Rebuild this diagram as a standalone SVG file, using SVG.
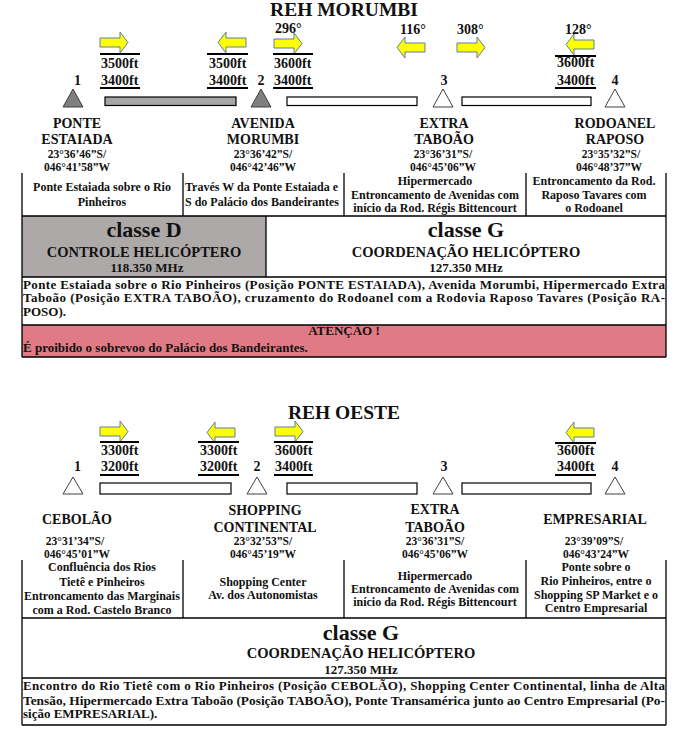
<svg xmlns="http://www.w3.org/2000/svg" xmlns:xlink="http://www.w3.org/1999/xlink" width="679" height="743" viewBox="0 0 679 743">
<style>
text{font-family:"Liberation Serif","Times New Roman",serif;font-weight:bold;fill:#111}
.c{text-anchor:middle}
.ttl{font-size:19.5px}
.alt{font-size:14px}
.num{font-size:14px}
.nm{font-size:14px}
.co{font-size:11.5px}
.ds{font-size:12px}
.pa{font-size:13px}
.cl{font-size:22px}
.sv{font-size:14.5px}
.fq{font-size:13px}
.ln{stroke:#000;stroke-width:1.3;fill:none}
.al{stroke:#000;stroke-width:2.2}
.arr{fill:#FFFF00;stroke:#5B7FA8;stroke-width:1}
.bar{stroke:#000;stroke-width:1.2}
.tg{fill:#7F7F7F;stroke:#404040;stroke-width:1}
.tw{fill:#fff;stroke:#404040;stroke-width:1}
</style>
<defs>
<path id="arR" class="arr" d="M0,6 H20 V0 L28,10.5 L20,21 V15 H0 Z"/>
<path id="arL" class="arr" d="M28,6 H8 V0 L0,10.5 L8,21 V15 H28 Z"/>
</defs>
<rect width="679" height="743" fill="#fff"/>

<!-- ===== REH MORUMBI ===== -->
<text class="ttl c" x="344" y="16">REH MORUMBI</text>

<g id="top-arrows">
<use xlink:href="#arR" x="100" y="32"/>
<use xlink:href="#arL" x="218" y="32"/>
<use xlink:href="#arR" x="274" y="33"/>
<use xlink:href="#arL" x="397" y="37"/>
<use xlink:href="#arR" x="457" y="37"/>
<use xlink:href="#arL" x="566" y="34"/>
<text class="alt" x="275" y="33">296°</text>
<text class="alt" x="400" y="34">116°</text>
<text class="alt" x="457" y="34">308°</text>
<text class="alt" x="565" y="34">128°</text>
</g>

<g id="top-altitudes">
<line class="al" x1="100" y1="54" x2="140" y2="54"/><line class="al" x1="100" y1="88" x2="140" y2="88"/>
<text class="alt" x="101" y="68">3500ft</text><text class="alt" x="101" y="85">3400ft</text>
<line class="al" x1="207" y1="54" x2="248" y2="54"/><line class="al" x1="207" y1="88" x2="248" y2="88"/>
<text class="alt" x="209" y="68">3500ft</text><text class="alt" x="209" y="85">3400ft</text>
<line class="al" x1="273" y1="54" x2="313" y2="54"/><line class="al" x1="273" y1="88" x2="313" y2="88"/>
<text class="alt" x="274" y="68">3600ft</text><text class="alt" x="274" y="85">3400ft</text>
<line class="al" x1="555" y1="56" x2="596" y2="56"/><line class="al" x1="555" y1="88" x2="596" y2="88"/>
<text class="alt" x="557" y="67">3600ft</text><text class="alt" x="557" y="85">3400ft</text>
</g>

<g id="top-connectors">
<rect class="bar" x="105" y="97" width="131" height="8.5" fill="#A6A6A6"/>
<rect class="bar" x="287" y="97" width="130" height="8.5" fill="#fff"/>
<rect class="bar" x="462" y="97" width="129" height="8.5" fill="#fff"/>
</g>

<g id="node-ponte-estaiada">
<text class="num c" x="77.5" y="85">1</text>
<polygon class="tg" points="73,89 83,107 63,107"/>
<text class="nm c" x="77" y="128">PONTE</text>
<text class="nm c" x="77" y="144">ESTAIADA</text>
<text class="co c" x="77" y="158">23°36’46”S/</text>
<text class="co c" x="77" y="171">046°41’58”W</text>
</g>
<g id="node-avenida-morumbi">
<text class="num c" x="261" y="85">2</text>
<polygon class="tg" points="261,89 271,107 251,107"/>
<text class="nm c" x="263" y="128">AVENIDA</text>
<text class="nm c" x="263" y="144">MORUMBI</text>
<text class="co c" x="263" y="158">23°36’42”S/</text>
<text class="co c" x="263" y="171">046°42’46”W</text>
</g>
<g id="node-extra-taboao-1">
<text class="num c" x="444" y="85">3</text>
<polygon class="tw" points="443,89 453,107 433,107"/>
<text class="nm c" x="444" y="128">EXTRA</text>
<text class="nm c" x="444" y="144">TABOÃO</text>
<text class="co c" x="443" y="158">23°36’31”S/</text>
<text class="co c" x="443" y="171">046°45’06”W</text>
</g>
<g id="node-rodoanel-raposo">
<text class="num c" x="615" y="85">4</text>
<polygon class="tw" points="615,89 625,107 605,107"/>
<text class="nm c" x="615" y="128">RODOANEL</text>
<text class="nm c" x="615" y="144">RAPOSO</text>
<text class="co c" x="611" y="158">23°35’32”S/</text>
<text class="co c" x="609" y="171">046°48’37”W</text>
</g>

<g id="top-table">
<rect x="22" y="216" width="244" height="61" fill="#ADA9A8"/>
<rect x="22" y="325" width="644" height="32" fill="#E07A84"/>
<path class="ln" d="M22,173 V357 M183,173 V216 M344,173 V216 M526,173 V216 M666,173 V357 M22,216 H666 M266,216 V277 M22,277 H666 M22,325 H666 M22,357 H666"/>
<text class="ds c" x="102" y="191">Ponte Estaiada sobre o Rio</text>
<text class="ds c" x="102" y="206">Pinheiros</text>
<text class="ds" x="185" y="191">Través W da Ponte Estaiada e</text>
<text class="ds" x="185" y="206">S do Palácio dos Bandeirantes</text>
<text class="ds c" x="435" y="185">Hipermercado</text>
<text class="ds c" x="435" y="199">Entroncamento de Avenidas com</text>
<text class="ds c" x="435" y="212">início da Rod. Régis Bittencourt</text>
<text class="ds c" x="594" y="185">Entroncamento da Rod.</text>
<text class="ds c" x="594" y="199">Raposo Tavares com</text>
<text class="ds c" x="594" y="212">o Rodoanel</text>
<text class="cl c" x="144" y="237">classe D</text>
<text class="sv c" x="144" y="257">CONTROLE HELICÓPTERO</text>
<text class="fq c" x="147" y="272">118.350 MHz</text>
<text class="cl c" x="466" y="237">classe G</text>
<text class="sv c" x="466" y="257">COORDENAÇÃO HELICÓPTERO</text>
<text class="fq c" x="466" y="272">127.350 MHz</text>
<text class="pa" x="23" y="289" textLength="642" lengthAdjust="spacing">Ponte Estaiada sobre o Rio Pinheiros (Posição PONTE ESTAIADA), Avenida Morumbi, Hipermercado Extra</text>
<text class="pa" x="23" y="302" textLength="642" lengthAdjust="spacing">Taboão (Posição EXTRA TABOÃO), cruzamento do Rodoanel com a Rodovia Raposo Tavares (Posição RA-</text>
<text class="pa" x="23" y="316">POSO).</text>
<text class="pa c" x="344" y="335">ATENÇÃO !</text>
<text class="pa" x="23" y="352">É proibido o sobrevoo do Palácio dos Bandeirantes.</text>
</g>

<!-- ===== REH OESTE ===== -->
<text class="ttl c" x="344" y="419">REH OESTE</text>

<g id="bottom-arrows">
<use xlink:href="#arR" x="100" y="421"/>
<use xlink:href="#arL" x="207" y="422"/>
<use xlink:href="#arR" x="275" y="421"/>
<use xlink:href="#arL" x="566" y="422"/>
</g>

<g id="bottom-altitudes">
<line class="al" x1="100" y1="442" x2="139" y2="442"/><line class="al" x1="100" y1="475" x2="139" y2="475"/>
<text class="alt" x="101" y="455">3300ft</text><text class="alt" x="101" y="471">3200ft</text>
<line class="al" x1="198" y1="442" x2="239" y2="442"/><line class="al" x1="198" y1="475" x2="239" y2="475"/>
<text class="alt" x="200" y="455">3300ft</text><text class="alt" x="200" y="471">3200ft</text>
<line class="al" x1="274" y1="442" x2="313" y2="442"/><line class="al" x1="274" y1="475" x2="313" y2="475"/>
<text class="alt" x="275" y="455">3600ft</text><text class="alt" x="275" y="471">3400ft</text>
<line class="al" x1="555" y1="443" x2="596" y2="443"/><line class="al" x1="555" y1="475" x2="596" y2="475"/>
<text class="alt" x="557" y="455">3600ft</text><text class="alt" x="557" y="471">3400ft</text>
</g>

<g id="bottom-connectors">
<rect class="bar" x="100" y="483" width="131" height="11" fill="#fff"/>
<rect class="bar" x="287" y="483" width="130" height="11" fill="#fff"/>
<rect class="bar" x="462" y="483" width="129" height="11" fill="#fff"/>
</g>

<g id="node-cebolao">
<text class="num c" x="77.5" y="471">1</text>
<polygon class="tw" points="73,477 83,494 63,494"/>
<text class="nm c" x="77" y="524">CEBOLÃO</text>
<text class="co c" x="75" y="545">23°31’34”S/</text>
<text class="co c" x="77" y="558">046°45’01”W</text>
</g>
<g id="node-shopping-continental">
<text class="num c" x="257" y="471">2</text>
<polygon class="tw" points="257,477 267,494 247,494"/>
<text class="nm c" x="265" y="515">SHOPPING</text>
<text class="nm c" x="265" y="532">CONTINENTAL</text>
<text class="co c" x="263" y="545">23°32’53”S/</text>
<text class="co c" x="263" y="558">046°45’19”W</text>
</g>
<g id="node-extra-taboao-2">
<text class="num c" x="444" y="471">3</text>
<polygon class="tw" points="443,477 453,494 433,494"/>
<text class="nm c" x="435" y="514">EXTRA</text>
<text class="nm c" x="435" y="532">TABOÃO</text>
<text class="co c" x="435" y="545">23°36’31”S/</text>
<text class="co c" x="435" y="558">046°45’06”W</text>
</g>
<g id="node-empresarial">
<text class="num c" x="615" y="471">4</text>
<polygon class="tw" points="615,477 625,494 605,494"/>
<text class="nm c" x="595" y="524">EMPRESARIAL</text>
<text class="co c" x="594" y="545">23°39’09”S/</text>
<text class="co c" x="596" y="558">046°43’24”W</text>
</g>

<g id="bottom-table">
<path class="ln" d="M22,560 V725 M183,560 V618 M344,560 V618 M526,560 V618 M666,560 V725 M22,618 H666 M22,678 H666 M22,725 H666"/>
<text class="ds c" x="102" y="571">Confluência dos Rios</text>
<text class="ds c" x="102" y="586">Tietê e Pinheiros</text>
<text class="ds c" x="102" y="600">Entroncamento das Marginais</text>
<text class="ds c" x="102" y="614">com a Rod. Castelo Branco</text>
<text class="ds c" x="263" y="586">Shopping Center</text>
<text class="ds c" x="263" y="599">Av. dos Autonomistas</text>
<text class="ds c" x="435" y="580">Hipermercado</text>
<text class="ds c" x="435" y="593">Entroncamento de Avenidas com</text>
<text class="ds c" x="435" y="606">início da Rod. Régis Bittencourt</text>
<text class="ds c" x="596" y="571">Ponte sobre o</text>
<text class="ds c" x="596" y="585">Rio Pinheiros, entre o</text>
<text class="ds c" x="596" y="599">Shopping SP Market e o</text>
<text class="ds c" x="596" y="612">Centro Empresarial</text>
<text class="cl c" x="361" y="640">classe G</text>
<text class="sv c" x="361" y="658">COORDENAÇÃO HELICÓPTERO</text>
<text class="fq c" x="361" y="674">127.350 MHz</text>
<text class="pa" x="23" y="690" textLength="642" lengthAdjust="spacing">Encontro do Rio Tietê com o Rio Pinheiros (Posição CEBOLÃO), Shopping Center Continental, linha de Alta</text>
<text class="pa" x="23" y="705" textLength="642" lengthAdjust="spacingAndGlyphs">Tensão, Hipermercado Extra Taboão (Posição TABOÃO), Ponte Transamérica junto ao Centro Empresarial (Po-</text>
<text class="pa" x="23" y="718">sição EMPRESARIAL).</text>
</g>
</svg>
